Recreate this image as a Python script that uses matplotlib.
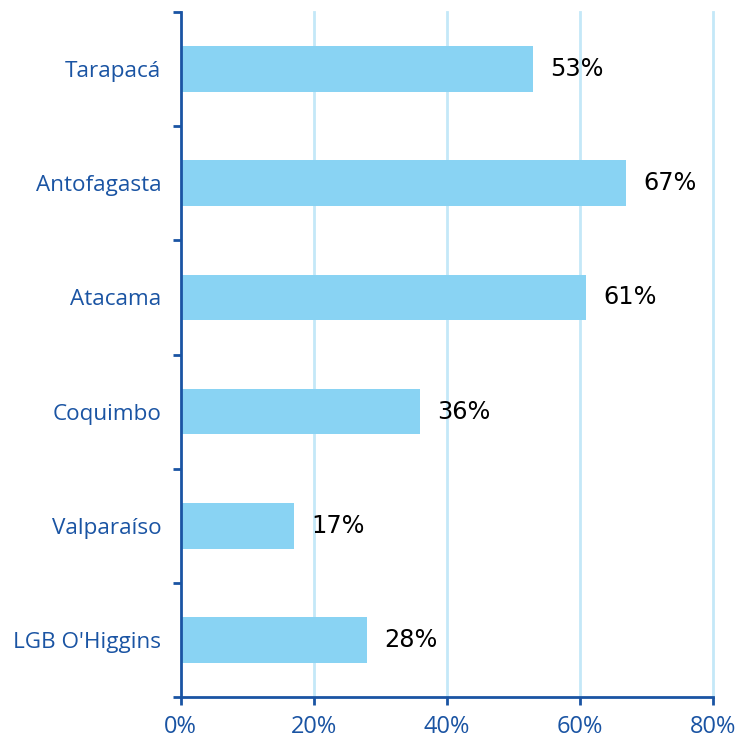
import matplotlib
matplotlib.use("Agg")
import matplotlib.pyplot as plt
import numpy as np

categories = ["Tarapacá", "Antofagasta", "Atacama", "Coquimbo", "Valparaíso", "LGB O'Higgins"]
values = [53, 67, 61, 36, 17, 28]
xticks = [0, 20, 40, 60, 80]
xtick_labels = ["0%", "20%", "40%", "60%", "80%"]

BAR = "#89D3F3"
GRID = "#C4E8F8"
DARK = "#1A54A3"

fig = plt.figure(figsize=(7.41, 7.38), dpi=100)
ax = fig.add_axes([0.244, 0.0556, 0.718, 0.928])

n = len(categories)
ypos = np.arange(n)[::-1]
ax.barh(ypos, values, height=0.4, color=BAR, zorder=2)

for y, v in zip(ypos, values):
    ax.text(v + 2.6, y, f"{v}%", va="center", ha="left", fontsize=17.3,
            family="DejaVu Sans", color="black", zorder=3)

ax.set_xlim(0, 80)
ax.set_ylim(-0.5, n - 0.5)
ax.set_xticks(xticks)
ax.set_xticklabels(xtick_labels, fontsize=17, family="Open Sans", color=DARK)
ax.set_yticks(ypos)
ax.set_yticklabels(categories, fontsize=16.2, family="Open Sans", color=DARK)
ax.tick_params(axis="y", which="major", length=0, pad=14)
ax.set_yticks(np.arange(-0.5, n, 1.0), minor=True)
ax.tick_params(axis="y", which="minor", length=6, width=2, color=DARK, direction="out")
ax.tick_params(axis="x", which="major", length=6, width=2, color=DARK, direction="out", pad=7)

for x in xticks[1:]:
    ax.axvline(x, color=GRID, lw=2, zorder=1, clip_on=False)

for s in ["top", "right"]:
    ax.spines[s].set_visible(False)
for s in ["left", "bottom"]:
    ax.spines[s].set_color(DARK)
    ax.spines[s].set_linewidth(2)

fig.savefig("out.png", dpi=100)
